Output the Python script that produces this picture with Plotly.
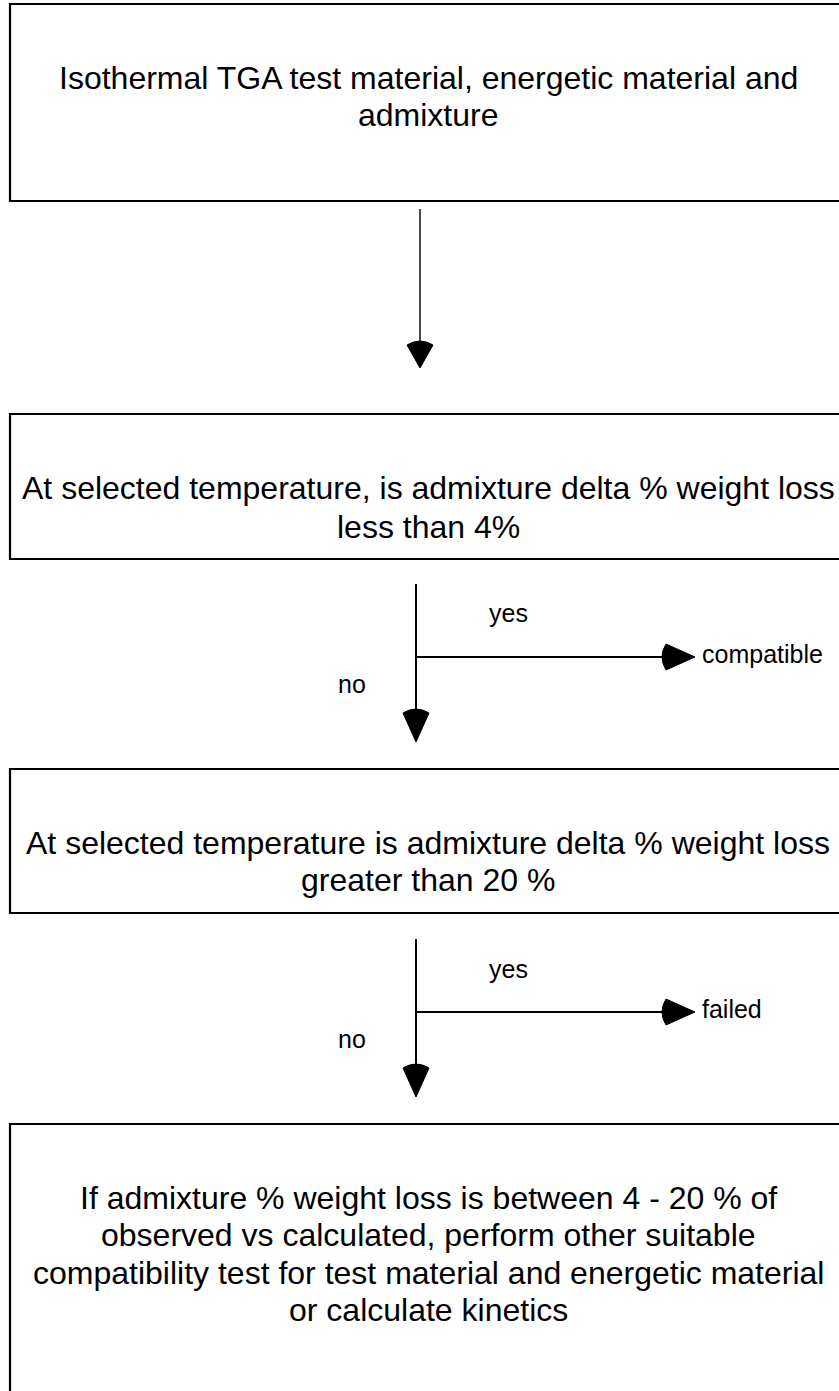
import plotly.graph_objects as go

# ---------------- data (texts) ----------------
box_lines = [
    ["Isothermal TGA test material, energetic material and", "admixture"],
    ["At selected temperature, is admixture delta % weight loss", "less than 4%"],
    ["At selected temperature is admixture delta % weight loss", "greater than 20 %"],
    ["If admixture % weight loss is between 4 - 20 % of",
     "observed vs calculated, perform other suitable",
     "compatibility test for test material and energetic material",
     "or calculate kinetics"],
]
branch_yes = ["yes", "yes"]
branch_no = ["no", "no"]
branch_outcome = ["compatible", "failed"]

# ---------------- layout (positions / styles) ----------------
W, H = 839, 1391
FONT = "Liberation Sans, Arial, Helvetica, sans-serif"
BOX_LEFT, BOX_RIGHT = 10, 848
box_top = [4, 414, 769, 1124]
box_bot = [201, 559, 913, 1400]
line_y = [[78, 115], [488, 527], [843, 880], [1198, 1235, 1273, 1310]]
TEXT_X = 428

fig = go.Figure()
fig.add_trace(go.Scatter(x=[0, W], y=[0, H], mode="markers",
                         marker=dict(opacity=0), hoverinfo="skip", showlegend=False))

shapes = []
annotations = []

# boxes + their text
for i, lines in enumerate(box_lines):
    shapes.append(dict(type="rect", xref="x", yref="y",
                       x0=BOX_LEFT, x1=BOX_RIGHT, y0=box_top[i], y1=box_bot[i],
                       line=dict(color="black", width=2.2), fillcolor="rgba(0,0,0,0)"))
    for j, t in enumerate(lines):
        annotations.append(dict(x=TEXT_X, y=line_y[i][j], xref="x", yref="y",
                                text=t, showarrow=False, xanchor="center", yanchor="middle",
                                font=dict(family=FONT, size=32, color="black")))


def down_arrow(x, y0, y_base, y_tip, hw=13, lw=1.8):
    shapes.append(dict(type="line", xref="x", yref="y", x0=x, x1=x, y0=y0, y1=y_base + 4,
                       line=dict(color="black", width=lw)))
    path = (f"M {x-hw},{y_base+3} Q {x},{y_base-5} {x+hw},{y_base+3} "
            f"L {x},{y_tip} Z")
    shapes.append(dict(type="path", xref="x", yref="y", path=path,
                       fillcolor="black", line=dict(color="black", width=1)))


def right_arrow(y, x0, x_base, x_tip, hh=13, lw=2):
    shapes.append(dict(type="line", xref="x", yref="y", x0=x0, x1=x_base + 4, y0=y, y1=y,
                       line=dict(color="black", width=lw)))
    path = (f"M {x_base+3},{y-hh} Q {x_base-5},{y} {x_base+3},{y+hh} "
            f"L {x_tip},{y} Z")
    shapes.append(dict(type="path", xref="x", yref="y", path=path,
                       fillcolor="black", line=dict(color="black", width=1)))


# arrow 1 (box 1 -> box 2)
down_arrow(420, 209, 342, 368, lw=1.4)

# decision branches
v_start = [584, 939]
v_base = [710, 1065]
v_tip = [742, 1097]
h_y = [657, 1012]
yes_y = [613, 969]
no_y = [684, 1039]
out_y = [654, 1009]
for k in range(2):
    down_arrow(416, v_start[k], v_base[k], v_tip[k], lw=2)
    right_arrow(h_y[k], 417, 663, 695, lw=2)
    annotations.append(dict(x=508, y=yes_y[k], xref="x", yref="y", text=branch_yes[k],
                            showarrow=False, xanchor="center", yanchor="middle",
                            font=dict(family=FONT, size=25, color="black")))
    annotations.append(dict(x=352, y=no_y[k], xref="x", yref="y", text=branch_no[k],
                            showarrow=False, xanchor="center", yanchor="middle",
                            font=dict(family=FONT, size=25, color="black")))
    annotations.append(dict(x=700, y=out_y[k], xref="x", yref="y", text=branch_outcome[k],
                            showarrow=False, xanchor="left", yanchor="middle",
                            font=dict(family=FONT, size=25, color="black")))

fig.update_layout(
    width=W, height=H,
    margin=dict(l=0, r=0, t=0, b=0),
    paper_bgcolor="white", plot_bgcolor="white",
    xaxis=dict(range=[0, W], visible=False, fixedrange=True),
    yaxis=dict(range=[H, 0], visible=False, fixedrange=True),
    shapes=shapes, annotations=annotations, showlegend=False,
)

fig.write_html("out.html", config={"displayModeBar": False},
               post_script="document.body.style.margin='0px';document.body.style.overflow='hidden';")
